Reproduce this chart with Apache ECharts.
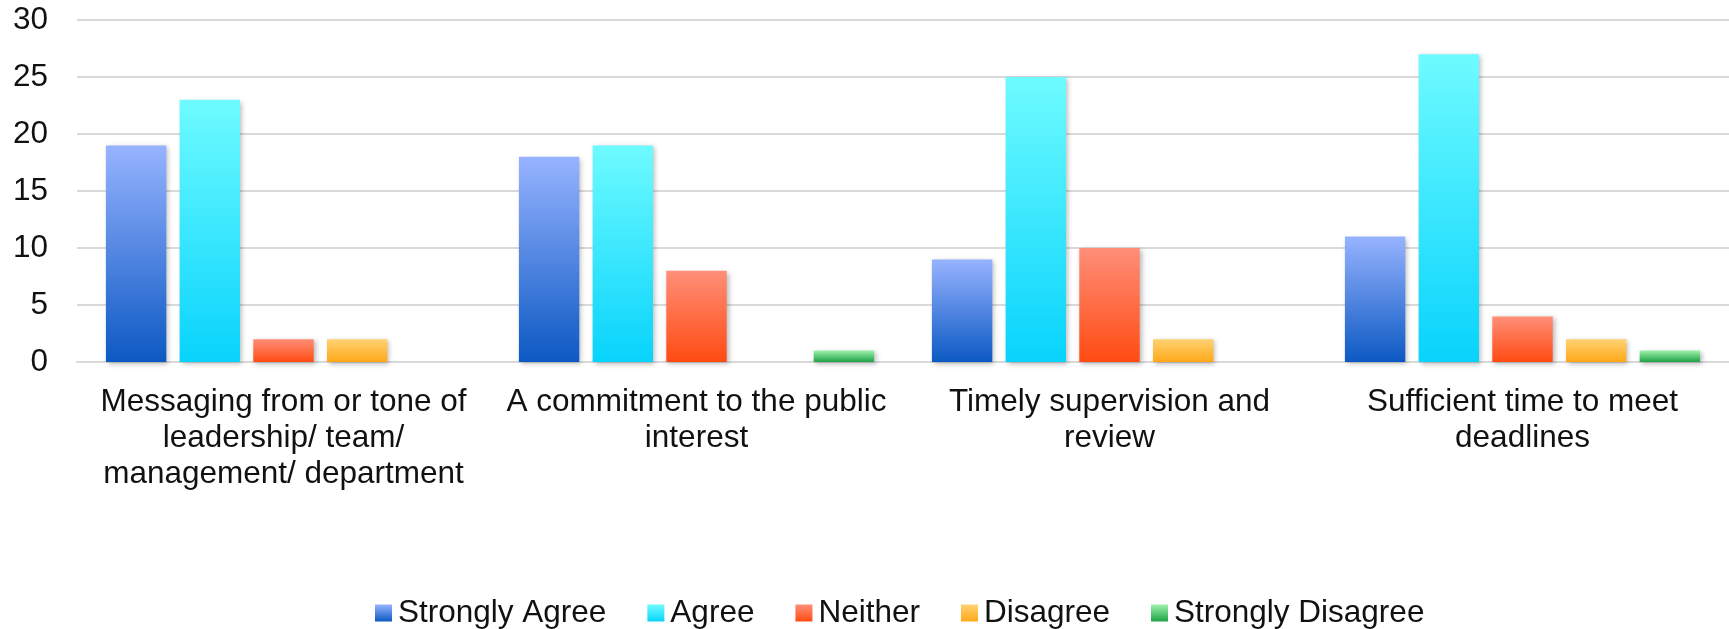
<!DOCTYPE html>
<html>
<head>
<meta charset="utf-8">
<title>Survey responses</title>
<script src="https://cdn.jsdelivr.net/npm/echarts@6/dist/echarts.min.js"></script>
<style>
  html, body { margin: 0; padding: 0; background: #ffffff; }
  #chart { width: 1729px; height: 629px; }
</style>
</head>
<body>
<div id="chart"></div>
<script>
// Categories (wrapped as shown under the axis)
const categories = [
  'Messaging from or tone of\nleadership/ team/\nmanagement/ department',
  'A commitment to the public\ninterest',
  'Timely supervision and\nreview',
  'Sufficient time to meet\ndeadlines'
];

// Response counts per category
const stronglyAgree    = [19, 18, 9, 11];
const agree            = [23, 19, 25, 27];
const neither          = [2, 8, 10, 4];
const disagree         = [2, 0, 2, 2];
const stronglyDisagree = [0, 1, 0, 1];

const seriesNames = ['Strongly Agree', 'Agree', 'Neither', 'Disagree', 'Strongly Disagree'];
const seriesValues = [stronglyAgree, agree, neither, disagree, stronglyDisagree];

// Vertical gradient per series: [top, bottom]
const gradients = [
  ['#97B3FF', '#0C59C3'],
  ['#6EFBFF', '#08D3FC'],
  ['#FF8E78', '#FF4B12'],
  ['#FFD273', '#FFA817'],
  ['#9DF2AB', '#1FA247']
];

const FONT = '"Liberation Sans", Arial, sans-serif';
const FONT_SIZE = 31.5;

const chart = echarts.init(document.getElementById('chart'), null, { renderer: 'canvas' });

const series = seriesNames.map((name, i) => ({
  name: name,
  type: 'bar',
  data: seriesValues[i],
  barGap: '22%',
  barCategoryGap: '14%',
  itemStyle: {
    color: new echarts.graphic.LinearGradient(0, 0, 0, 1, [
      { offset: 0, color: gradients[i][0] },
      { offset: 1, color: gradients[i][1] }
    ]),
    shadowColor: 'rgba(0,0,0,0.28)',
    shadowBlur: 5,
    shadowOffsetX: 2,
    shadowOffsetY: 2
  },
  emphasis: { disabled: true }
}));

chart.setOption({
  animation: false,
  backgroundColor: '#ffffff',
  grid: { left: 77, right: 0, top: 20, bottom: 267, containLabel: false },
  legend: {
    data: seriesNames,
    icon: 'rect',
    top: 592,
    left: 370,
    itemWidth: 17,
    itemHeight: 17,
    itemGap: 41,
    itemStyle: { shadowBlur: 0, shadowOffsetX: 0, shadowOffsetY: 0, shadowColor: 'transparent' },
    textStyle: { fontFamily: FONT, fontSize: FONT_SIZE, color: '#111111', padding: [0, 0, 0, 1] }
  },
  xAxis: {
    type: 'category',
    data: categories,
    axisLine: { show: true, lineStyle: { color: '#d9d9d9', width: 2 } },
    axisTick: { show: false },
    axisLabel: {
      interval: 0,
      margin: 22,
      fontFamily: FONT,
      fontSize: FONT_SIZE,
      lineHeight: 36,
      color: '#111111',
      align: 'center'
    }
  },
  yAxis: {
    type: 'value',
    min: 0,
    max: 30,
    interval: 5,
    axisLine: { show: false },
    axisTick: { show: false },
    splitLine: { lineStyle: { color: '#d9d9d9', width: 2 } },
    axisLabel: {
      margin: 29,
      fontFamily: FONT,
      fontSize: FONT_SIZE,
      color: '#111111'
    }
  },
  series: series
});
</script>
</body>
</html>
